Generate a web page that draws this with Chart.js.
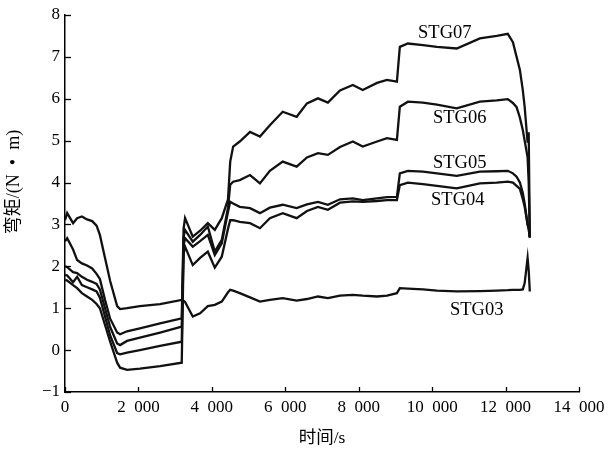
<!DOCTYPE html>
<html>
<head>
<meta charset="utf-8">
<script src="https://cdn.jsdelivr.net/npm/chart.js@4/dist/chart.umd.min.js"></script>
<style>
  html, body { margin: 0; padding: 0; background: #fff; }
  #wrap { width: 608px; height: 450px; }
</style>
</head>
<body>
<div id="wrap"><canvas id="c" width="608" height="450"></canvas></div>
<script>
// Time axis (s), shared by all strain-gauge channels
const time = [0, 60, 220, 330, 460, 600, 740, 860, 950, 1090, 1230, 1420, 1500, 1690, 2040, 2590,
  3180, 3230, 3270, 3480, 3680, 3890, 4080, 4270, 4440, 4500, 4580, 4760, 5040, 5310, 5580, 5930,
  6310, 6590, 6890, 7160, 7490, 7840, 8110, 8500, 8770, 9040, 9120, 9340, 9750, 10130, 10670,
  11300, 11760, 12060, 12200, 12300, 12390, 12470, 12520, 12600, 12630, 12660];

// Bending moment (N·m) per gauge
const stg07 = [2.6, 2.67, 2.4, 2.15, 2.07, 2.02, 1.95, 1.82, 1.7, 1.2, 0.75, 0.42, 0.38, 0.45, 0.52, 0.64,
  0.76, 2.9, 3.15, 2.71, 2.85, 3.03, 2.87, 3.15, 3.6, 4.5, 4.86, 4.98, 5.21, 5.1, 5.37, 5.69,
  5.57, 5.89, 6.01, 5.91, 6.2, 6.33, 6.21, 6.38, 6.45, 6.41, 7.24, 7.32, 7.28, 7.24, 7.2,
  7.44, 7.5, 7.55, 7.35, 7.0, 6.69, 6.2, 5.81, 4.95, 5.2, 2.7];
const stg06 = [2.0, 1.98, 1.86, 1.84, 1.75, 1.68, 1.63, 1.58, 1.45, 1.0, 0.55, 0.16, 0.12, 0.22, 0.3, 0.42,
  0.56, 2.7, 2.87, 2.59, 2.75, 2.95, 2.35, 2.63, 3.4, 3.95, 4.02, 4.06, 4.18, 3.98, 4.28, 4.5,
  4.38, 4.6, 4.7, 4.66, 4.85, 4.98, 4.86, 4.98, 5.06, 5.02, 5.81, 5.93, 5.91, 5.86, 5.77,
  5.93, 5.96, 5.99, 5.9, 5.8, 5.55, 5.25, 5.0, 4.6, 4.0, 2.7];
const stg05 = [1.8, 1.78, 1.62, 1.75, 1.55, 1.5, 1.45, 1.4, 1.25, 0.8, 0.35, -0.07, -0.1, -0.06, 0.0, 0.1,
  0.2, 2.5, 2.67, 2.47, 2.6, 2.75, 2.27, 2.55, 3.3, 3.54, 3.5, 3.42, 3.39, 3.27, 3.4, 3.47,
  3.39, 3.48, 3.54, 3.47, 3.6, 3.62, 3.58, 3.62, 3.65, 3.66, 4.22, 4.28, 4.26, 4.22, 4.16,
  4.26, 4.27, 4.28, 4.22, 4.14, 4.0, 3.75, 3.5, 3.0, 2.9, 2.68];
const stg04 = [1.68, 1.66, 1.55, 1.48, 1.36, 1.28, 1.2, 1.1, 1.0, 0.6, 0.2, -0.3, -0.42, -0.47, -0.44, -0.38,
  -0.3, 2.3, 2.47, 2.03, 2.2, 2.35, 1.97, 2.23, 2.9, 3.1, 3.1, 3.06, 3.03, 2.91, 3.15, 3.27,
  3.15, 3.32, 3.42, 3.35, 3.52, 3.55, 3.54, 3.56, 3.58, 3.58, 3.94, 4.0, 3.96, 3.92, 3.86,
  3.98, 4.0, 4.02, 4.0, 3.92, 3.85, 3.6, 3.42, 3.0, 2.9, 2.7];
const stg03 = [3.1, 3.27, 3.03, 3.15, 3.19, 3.12, 3.08, 2.97, 2.75, 2.2, 1.65, 1.05, 0.98, 1.0, 1.05, 1.1,
  1.2, 1.18, 1.15, 0.8, 0.88, 1.05, 1.08, 1.16, 1.38, 1.44, 1.42, 1.36, 1.26, 1.16, 1.2, 1.24,
  1.18, 1.22, 1.28, 1.24, 1.3, 1.32, 1.3, 1.28, 1.3, 1.36, 1.48, 1.47, 1.45, 1.42, 1.4,
  1.41, 1.42, 1.43, 1.44, 1.44, 1.44, 1.45, 1.6, 2.2, 1.9, 1.4];

const seriesNames = ['STG07', 'STG06', 'STG05', 'STG04', 'STG03'];
const seriesValues = [stg07, stg06, stg05, stg04, stg03];

// Curve name labels, placed in data coordinates [time, moment]
const nameAnchors = [[10344, 7.57], [10752, 5.54], [10752, 4.47], [10698, 3.58], [11215, 0.96]];

const xTickStep = 2000;
const yTickStep = 1;

const SERIF = "'Liberation Serif', 'Times New Roman', 'Noto Sans CJK SC', serif";

function fmtThousands(v) {
  if (v === 0) return '0';
  const s = String(Math.round(v));
  return s.replace(/\B(?=(\d{3})+(?!\d))/g, '\u2007');
}
function fmtSigned(v) {
  return v < 0 ? '\u2212' + Math.abs(v) : String(v);
}

const datasets = seriesNames.map((name, i) => ({
  label: name,
  data: time.map((t, k) => ({ x: t, y: seriesValues[i][k] })),
  borderColor: '#111',
  borderWidth: 2.3,
  pointRadius: 0,
  tension: 0,
  fill: false
}));

// Inward tick marks, curve names and axis titles
const decorations = {
  id: 'decorations',
  afterDraw(chart) {
    const ctx = chart.ctx;
    const xs = chart.scales.x, ys = chart.scales.y;
    const area = chart.chartArea;
    ctx.save();
    ctx.strokeStyle = '#000';
    ctx.lineWidth = 1.3;
    xs.ticks.forEach(t => {
      const px = Math.round(xs.getPixelForValue(t.value)) + 0.5;
      ctx.beginPath();
      ctx.moveTo(px, area.bottom);
      ctx.lineTo(px, area.bottom - 5);
      ctx.stroke();
    });
    ys.ticks.forEach(t => {
      const py = Math.round(ys.getPixelForValue(t.value)) + 0.5;
      ctx.beginPath();
      ctx.moveTo(area.left, py);
      ctx.lineTo(area.left + 6, py);
      ctx.stroke();
    });

    ctx.fillStyle = '#000';
    ctx.textAlign = 'center';
    ctx.textBaseline = 'middle';
    ctx.font = '18.5px ' + SERIF;
    seriesNames.forEach((name, i) => {
      const [tx, ty] = nameAnchors[i];
      ctx.fillText(name, xs.getPixelForValue(tx), ys.getPixelForValue(ty));
    });

    ctx.font = '17.5px ' + SERIF;
    ctx.fillText('时间/s', (area.left + area.right) / 2, 438);

    ctx.font = '18px ' + SERIF;
    ctx.translate(14, 182);
    ctx.rotate(-Math.PI / 2);
    ctx.fillText('弯矩/(N\u2002•\u2002m)', 0, 0);
    ctx.restore();
  }
};

new Chart(document.getElementById('c'), {
  type: 'line',
  data: { datasets },
  options: {
    responsive: false,
    animation: false,
    layout: { padding: { top: 15, right: 29, bottom: 0, left: 0 } },
    plugins: { legend: { display: false }, tooltip: { enabled: false } },
    scales: {
      x: {
        type: 'linear',
        min: 0, max: 14000,
        grid: { display: false, drawTicks: false },
        border: { display: true, color: '#000', width: 1.5 },
        ticks: {
          stepSize: xTickStep, padding: 5, color: '#000', maxRotation: 0, autoSkip: false,
          font: { family: SERIF, size: 17 },
          callback: v => fmtThousands(v)
        },
        afterFit(s) { s.height = 58; s.paddingLeft = 0; s.paddingRight = 0; }
      },
      y: {
        type: 'linear',
        min: -1, max: 8,
        grid: { display: false, drawTicks: false },
        border: { display: true, color: '#000', width: 1.5 },
        ticks: {
          stepSize: yTickStep, padding: 5, color: '#000', autoSkip: false,
          font: { family: SERIF, size: 17 },
          callback: v => fmtSigned(v)
        },
        afterFit(s) { s.width = 65; s.paddingTop = 0; s.paddingBottom = 0; }
      }
    }
  },
  plugins: [decorations]
});
</script>
</body>
</html>
